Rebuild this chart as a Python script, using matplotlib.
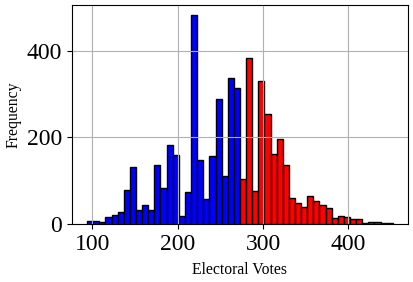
import numpy as np
import matplotlib.pyplot as plt

plt.rcParams["font.family"] = ["Liberation Serif", "DejaVu Serif"]

# histogram: 50 bins between min and max electoral votes
ev_min = 94
ev_max = 452
counts = [7, 7, 4, 15, 20, 28, 79, 132, 32, 43,
          32, 135, 83, 183, 158, 18, 74, 481, 148, 57,
          156, 288, 111, 336, 313, 104, 383, 76, 330, 253,
          162, 197, 137, 60, 49, 39, 64, 52, 43, 36,
          13, 18, 16, 11, 11, 1, 4, 4, 2, 2]

edges = np.linspace(ev_min, ev_max, len(counts) + 1)
centers = (edges[:-1] + edges[1:]) / 2

fig, ax = plt.subplots(figsize=(4.13, 2.82), dpi=100)
fig.subplots_adjust(left=0.174, right=0.988, top=0.982, bottom=0.206)

n, bins, patches = ax.hist(centers, bins=edges, weights=counts, edgecolor="black", linewidth=1)
for left, p in zip(bins[:-1], patches):
    if left < 270:
        p.set_facecolor("blue")
    else:
        p.set_facecolor("red")

ax.grid(True)
ax.set_xticks([100, 200, 300, 400])
ax.set_yticks([0, 200, 400])
ax.tick_params(labelsize=17)
ax.set_xlabel("Electoral Votes", fontsize=11.3, labelpad=5)
ax.set_ylabel("Frequency", fontsize=11.3)

plt.savefig("out.png")
